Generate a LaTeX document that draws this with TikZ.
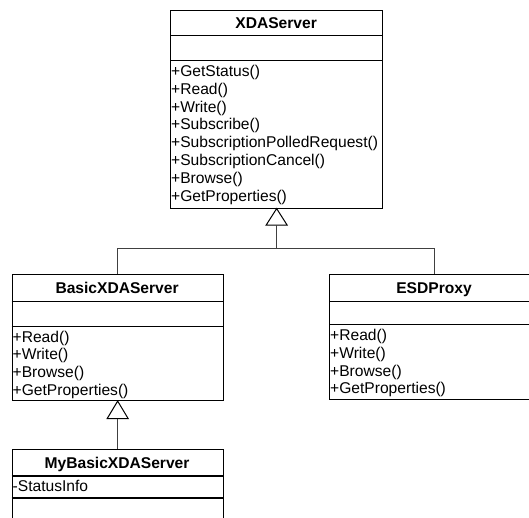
\documentclass[tikz,border=0pt]{standalone}
\usepackage{fontspec}
\setmainfont{Liberation Sans}
\usetikzlibrary{calc}
\begin{document}
\begin{tikzpicture}[x=1pt,y=-1pt,
  classbox/.style={draw=black, line width=1.1pt, inner sep=0pt, anchor=north west},
  divider/.style={draw=black, line width=1.1pt},
  conn/.style={draw=black!75, line width=1pt},
  gen/.style={draw=black, line width=1pt, fill=white, line join=miter},
  ctitle/.style={font=\fontsize{15.6}{18}\selectfont\bfseries, inner sep=0pt, anchor=base},
  member/.style={font=\fontsize{15.6}{18}\selectfont, inner sep=0pt, anchor=base west}]
\useasboundingbox (0,0) rectangle (529,517);
\clip (0,0) rectangle (529,517);

% ---------- XDAServer ----------
\node[classbox, minimum width=212.2pt, minimum height=198pt] (xda) at (170,9.5) {};
\draw[divider] (170,35.5) -- (382.2,35.5);
\draw[divider] (170,60.7) -- (382.2,60.7);
\node[ctitle] (xdaT) at (276.1,28) {XDAServer};
\foreach \t [count=\i from 0] in {+GetStatus(),+Read(),+Write(),+Subscribe(),+SubscriptionPolledRequest(),+SubscriptionCancel(),+Browse(),+GetProperties()}
  \node[member] (xdaM\i) at (171,76.5+17.8*\i) {\t};

% ---------- BasicXDAServer ----------
\node[classbox, minimum width=211.2pt, minimum height=126pt] (basic) at (11.5,274) {};
\draw[divider] (11.5,301.7) -- (222.7,301.7);
\draw[divider] (11.5,326.7) -- (222.7,326.7);
\node[ctitle] (basicT) at (117.1,293.4) {BasicXDAServer};
\foreach \t [count=\i from 0] in {+Read(),+Write(),+Browse(),+GetProperties()}
  \node[member] (basicM\i) at (12.5,342+17.8*\i) {\t};

% ---------- ESDProxy ----------
\node[classbox, minimum width=210pt, minimum height=125.3pt] (esd) at (329,274) {};
\draw[divider] (329,301.7) -- (539,301.7);
\draw[divider] (329,324.3) -- (539,324.3);
\node[ctitle] (esdT) at (434,293.4) {ESDProxy};
\foreach \t [count=\i from 0] in {+Read(),+Write(),+Browse(),+GetProperties()}
  \node[member] (esdM\i) at (330,340.5+17.8*\i) {\t};

% ---------- MyBasicXDAServer ----------
\node[classbox, minimum width=211.2pt, minimum height=90pt] (my) at (11.5,449) {};
\draw[divider] (11.5,476) -- (222.7,476);
\draw[divider] (11.5,498) -- (222.7,498);
\node[ctitle] (myT) at (117.1,468) {MyBasicXDAServer};
\node[member] (myA0) at (12.5,491.5) {-StatusInfo};

% ---------- Generalizations ----------
\draw[gen] (xda.south) -- ++(-10.5,16.5) -- ++(21,0) -- cycle;
\coordinate (tri1b) at ($(xda.south)+(0,16.5)$);
\coordinate (bus) at ($(xda.south)+(0,40.2)$);
\draw[conn] (tri1b) -- (bus);
\draw[conn] (bus) -| (basic.north);
\draw[conn] (bus) -| (esd.north);

\draw[gen] (basic.south) -- ++(-10.5,17.5) -- ++(21,0) -- cycle;
\coordinate (tri2b) at ($(basic.south)+(0,17.5)$);
\draw[conn] (tri2b) -- (my.north);
\end{tikzpicture}
\end{document}
